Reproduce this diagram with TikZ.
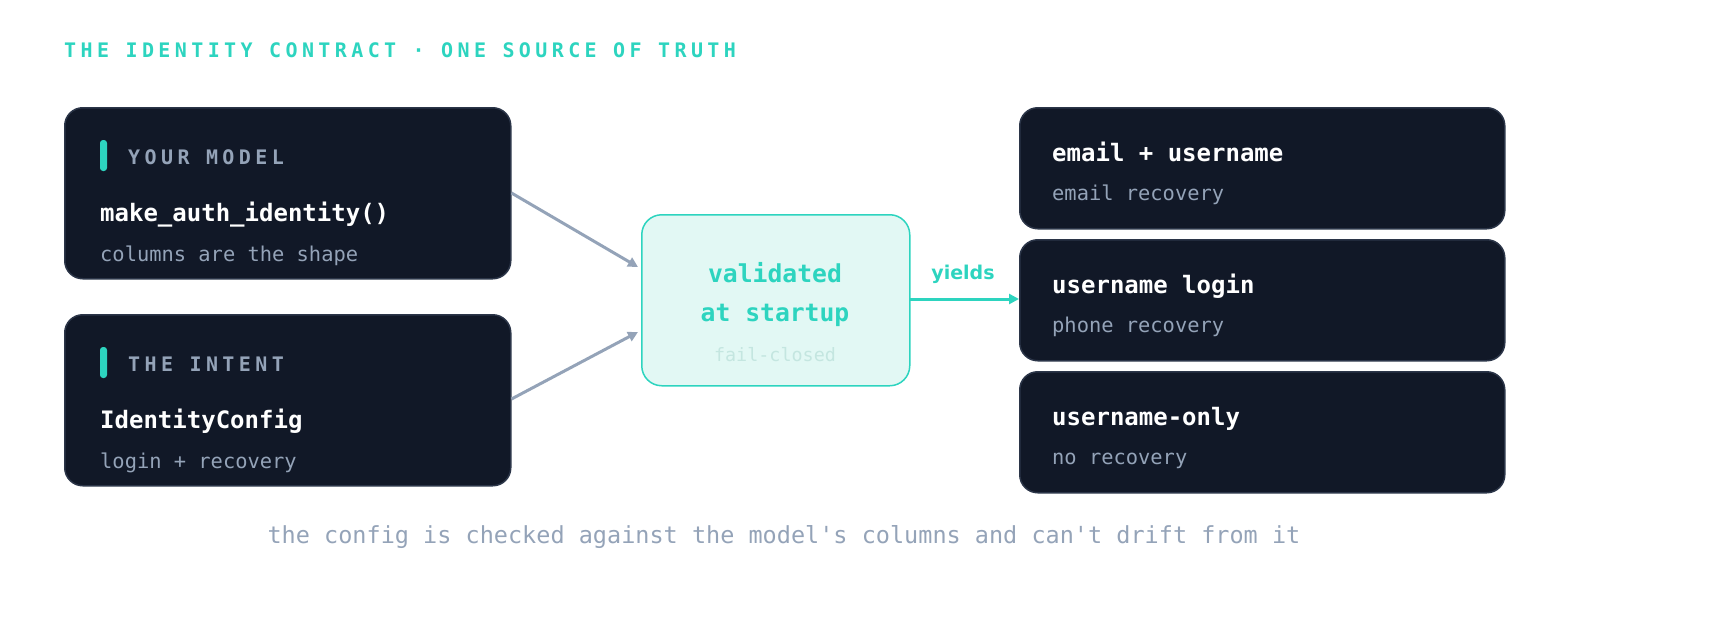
\documentclass[tikz,border=0pt]{standalone}
\usepackage{fontspec}
\setmainfont{DejaVu Sans Mono}
\newfontfamily\spaced[LetterSpace=22]{DejaVu Sans Mono}
\newfontfamily\plainmono{DejaVu Sans Mono}
\newfontfamily\sansf{DejaVu Sans}
\usetikzlibrary{arrows.meta}
\definecolor{dark}{HTML}{111827}
\definecolor{darkb}{HTML}{2B3548}
\definecolor{teal}{HTML}{2DD4BF}
\definecolor{gray}{HTML}{94A3B8}
\definecolor{mint}{HTML}{E2F8F4}
\definecolor{faint}{HTML}{C4E6E0}
\begin{document}
\begin{tikzpicture}[x=1pt,y=-1pt,
  card/.style={fill=dark,draw=darkb,line width=1.5pt,rounded corners=18pt},
  lbl/.style={anchor=base west,inner sep=0,text=gray,font=\spaced\bfseries\fontsize{20}{24}\selectfont},
  main/.style={anchor=base west,inner sep=0,text=white,font=\bfseries\fontsize{24}{28}\selectfont},
  sub/.style={anchor=base west,inner sep=0,text=gray,font=\fontsize{20.4}{24}\selectfont},
  conn/.style={draw=gray,line width=3pt,-{Triangle[length=10pt,width=10pt]}}]
\useasboundingbox (0,0) rectangle (1720,626);
\node[anchor=base west,inner sep=0,text=teal,font=\spaced\bfseries\fontsize{20}{24}\selectfont] (title) at (64,57) {THE IDENTITY CONTRACT · ONE SOURCE OF TRUTH};
% left cards
\node[card,minimum width=446pt,minimum height=171pt,anchor=north west] (m) at (64,107) {};
\fill[teal,rounded corners=3pt] (100,140) rectangle (107,171);
\node[lbl] (ml) at (128,164) {YOUR MODEL};
\node[main] (mm) at (100,221) {make\_auth\_identity()};
\node[sub] (ms) at (100,261) {columns are the shape};
\node[card,minimum width=446pt,minimum height=171pt,anchor=north west] (i) at (64,314) {};
\fill[teal,rounded corners=3pt] (100,347) rectangle (107,378);
\node[lbl] (il) at (128,371) {THE INTENT};
\node[main] (im) at (100,428) {IdentityConfig};
\node[sub] (is) at (100,468) {login + recovery};
% center
\node[fill=mint,draw=teal,line width=1.5pt,rounded corners=20pt,minimum width=268pt,minimum height=171pt,anchor=north west] (v) at (641,214) {};
\node[anchor=base,inner sep=0,text=teal,font=\bfseries\fontsize{24.7}{28}\selectfont] (v1) at (775,282) {validated};
\node[anchor=base,inner sep=0,text=teal,font=\bfseries\fontsize{24.7}{28}\selectfont] (v2) at (775,321) {at startup};
\node[anchor=base,inner sep=0,text=faint,font=\fontsize{18.4}{22}\selectfont] (v3) at (775,361) {fail-closed};
% right cards
\node[card,minimum width=485pt,minimum height=121pt,anchor=north west] (r1) at (1019,107) {};
\node[main] at (1052,161) {email + username};
\node[sub] at (1052,200) {email recovery};
\node[card,minimum width=485pt,minimum height=121pt,anchor=north west] (r2) at (1019,239) {};
\node[main] at (1052,293) {username login};
\node[sub] at (1052,332) {phone recovery};
\node[card,minimum width=485pt,minimum height=121pt,anchor=north west] (r3) at (1019,371) {};
\node[main] at (1052,425) {username-only};
\node[sub] at (1052,464) {no recovery};
% connectors
\coordinate (a1) at (638,267);
\coordinate (a2) at (638,332);
\coordinate (ys) at (909,299);
\coordinate (ye) at (1019,299);
\draw[conn] (m.east |- 0,193) -- (a1);
\draw[conn] (i.east |- 0,399) -- (a2);
\draw[draw=teal,line width=3pt,-{Triangle[length=10pt,width=10pt]}] (ys) -- (ye);
\node[anchor=base,inner sep=0,text=teal,font=\sansf\bfseries\fontsize{19}{22}\selectfont] (y) at (963,279) {yields};
\node[anchor=base,inner sep=0,text=gray,font=\plainmono\fontsize{23.5}{26}\selectfont] (foot) at (784,543) {the config is checked against the model's columns and can't drift from it};
\end{tikzpicture}
\end{document}
